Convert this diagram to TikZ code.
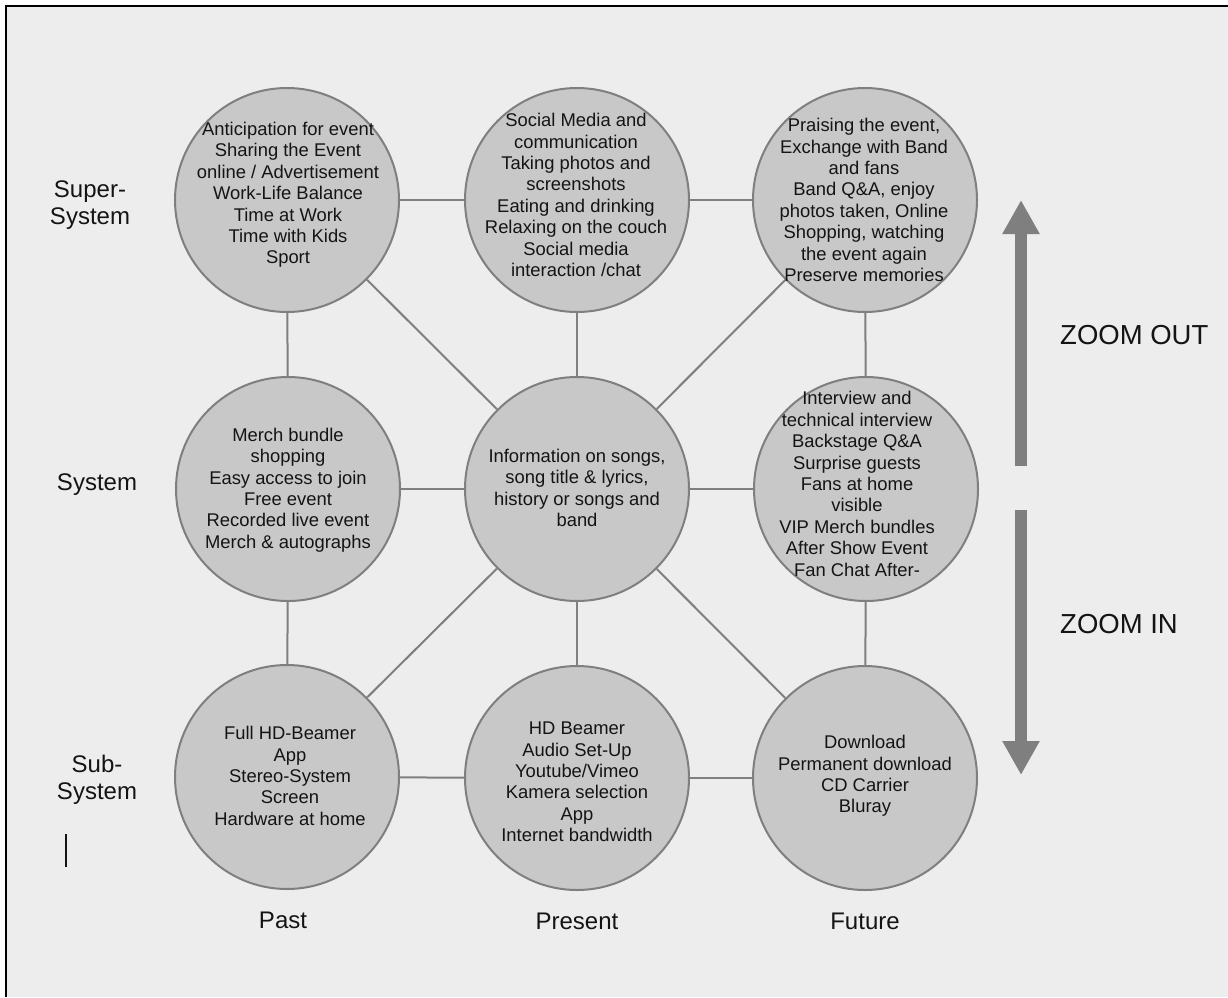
\documentclass[tikz,border=0pt]{standalone}
\usepackage{fontspec}
\setmainfont{Liberation Sans}
\usetikzlibrary{arrows.meta}
\definecolor{bgc}{HTML}{EDEDED}
\definecolor{circfill}{HTML}{C8C8C8}
\definecolor{circborder}{HTML}{7F7F7F}
\definecolor{linec}{HTML}{7F7F7F}
\definecolor{arrowc}{HTML}{7F7F7F}
\definecolor{txt}{HTML}{141414}
\tikzset{
  circ/.style={circle, draw=circborder, fill=circfill, line width=2pt, minimum size=224pt, inner sep=0pt},
  ctext/.style={align=center, font=\fontsize{18.4}{21.4}\selectfont, text=txt, inner sep=0pt},
  link/.style={draw=linec, line width=2pt},
  axislbl/.style={align=center, font=\fontsize{24}{27.5}\selectfont, text=txt, inner sep=0pt},
  zoomlbl/.style={font=\fontsize{27.5}{30}\selectfont, text=txt, anchor=west, inner sep=0pt},
  bigarrow/.style={draw=arrowc, fill=arrowc, line width=12pt, -{Triangle[width=35pt,length=34pt]}}
}
\begin{document}
\begin{tikzpicture}[x=1pt,y=-1pt]
\useasboundingbox (0,0) rectangle (1228,997);
\fill[white] (0,0) rectangle (1228,997);
\fill[bgc] (6,6) rectangle (1228,997);
\draw[black, line width=1.6pt] (6,997) -- (6,6) -- (1228,6);

% circles
\node[circ] (TL) at (287,200) {};
\node[circ] (TM) at (577,200) {};
\node[circ] (TR) at (865,200) {};
\node[circ] (ML) at (288,489) {};
\node[circ] (MC) at (577,489) {};
\node[circ] (MR) at (866,489) {};
\node[circ] (BL) at (287,777) {};
\node[circ] (BM) at (577,778) {};
\node[circ] (BR) at (865,778) {};

% connectors
\draw[link] (TL) -- (TM);
\draw[link] (TM) -- (TR);
\draw[link] (ML) -- (MC);
\draw[link] (MC) -- (MR);
\draw[link] (BL) -- (BM);
\draw[link] (BM) -- (BR);
\draw[link] (TL) -- (ML);
\draw[link] (ML) -- (BL);
\draw[link] (TM) -- (MC);
\draw[link] (MC) -- (BM);
\draw[link] (TR) -- (MR);
\draw[link] (MR) -- (BR);
\draw[link] (TL) -- (MC);
\draw[link] (TR) -- (MC);
\draw[link] (BL) -- (MC);
\draw[link] (BR) -- (MC);

% circle texts
\node[ctext] (tTL) at (288,195) {Anticipation for event\\Sharing the Event\\online / Advertisement\\Work-Life Balance\\Time at Work\\Time with Kids\\Sport};
\node[ctext] (tTM) at (576,195) {Social Media and\\communication\\Taking photos and\\screenshots\\Eating and drinking\\Relaxing on the couch\\Social media\\interaction /chat};
\node[ctext] (tTR) at (864,200) {Praising the event,\\Exchange with Band\\and fans\\Band Q\&A, enjoy\\photos taken, Online\\Shopping, watching\\the event again\\Preserve memories};
\node[ctext] (tML) at (288,490) {Merch bundle\\shopping\\Easy access to join\\Free event\\Recorded live event\\Merch \& autographs};
\node[ctext] (tMC) at (577,488) {Information on songs,\\song title \& lyrics,\\history or songs and\\band};
\node[ctext] (tMR) at (857,484) {Interview and\\technical interview\\Backstage Q\&A\\Surprise guests\\Fans at home\\visible\\VIP Merch bundles\\After Show Event\\Fan Chat After-};
\node[ctext] (tBL) at (290,776) {Full HD-Beamer\\App\\Stereo-System\\Screen\\Hardware at home};
\node[ctext] (tBM) at (577,782) {HD Beamer\\Audio Set-Up\\Youtube/Vimeo\\Kamera selection\\App\\Internet bandwidth};
\node[ctext] (tBR) at (865,776) {Download\\Permanent download\\CD Carrier\\Bluray};

% row labels
\node[axislbl] (rSuper) at (90,205) {Super-\\System};
\node[axislbl, anchor=base] (rSystem) at (97,490) {System};
\node[axislbl] (rSub) at (97,780) {Sub-\\System};
\draw[txt, line width=1.8pt] (66,834) -- (66,867);

% column labels
\node[axislbl, anchor=base] (cPast) at (283,928) {Past};
\node[axislbl, anchor=base] (cPresent) at (577,929) {Present};
\node[axislbl, anchor=base] (cFuture) at (865,929) {Future};

% zoom arrows
\coordinate (upS) at (1021,466);
\coordinate (upE) at (1021,200);
\coordinate (dnS) at (1021,510);
\coordinate (dnE) at (1021,775);
\draw[bigarrow] (upS) -- (upE);
\draw[bigarrow] (dnS) -- (dnE);
\node[zoomlbl] (zOut) at (1060,335) {ZOOM OUT};
\node[zoomlbl] (zIn) at (1060,624.5) {ZOOM IN};
\end{tikzpicture}
\end{document}
